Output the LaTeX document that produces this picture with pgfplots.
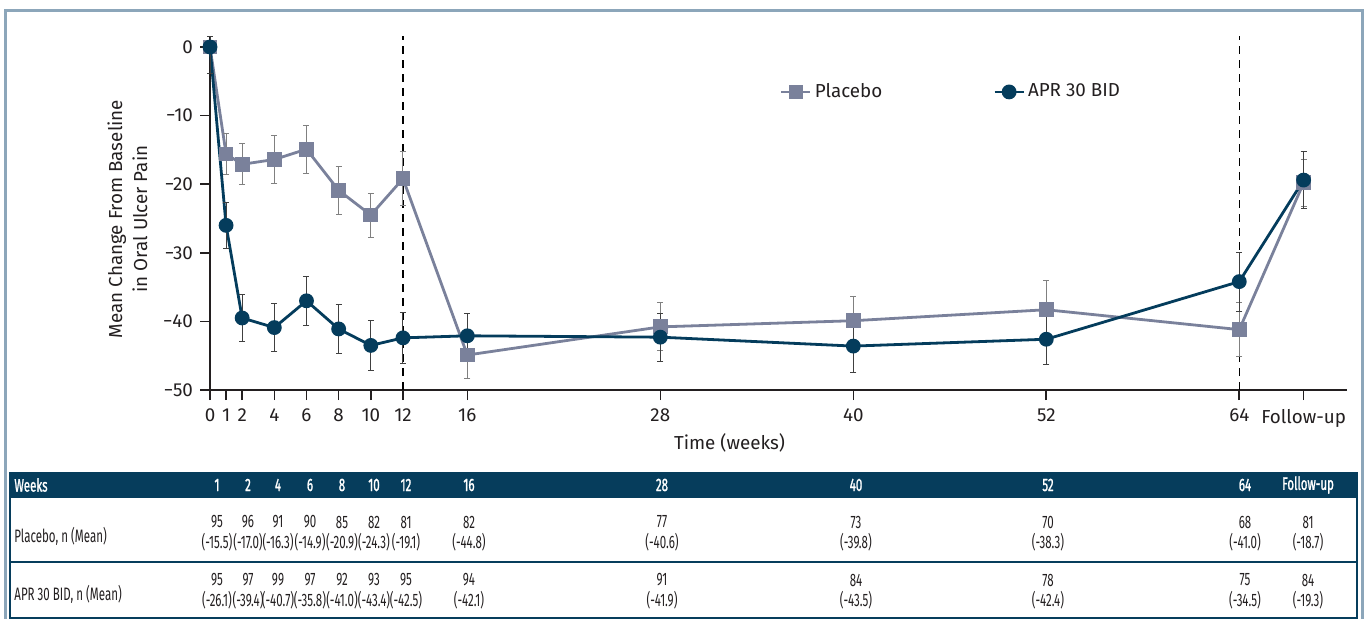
\documentclass[border=0pt]{standalone}
\usepackage{pgfplots}
\pgfplotsset{compat=1.18}
\usepackage{fontspec}
\setmainfont{Fira Sans}
\newfontfamily\condfont[FakeStretch=0.64]{Fira Sans}
\newfontfamily\condfontb[FakeStretch=0.64, FakeBold=1.2]{Fira Sans}
\definecolor{plac}{RGB}{122,129,155}
\definecolor{apr}{RGB}{4,60,92}
\definecolor{hdr}{RGB}{6,61,92}
\definecolor{framec}{RGB}{140,166,186}
\definecolor{txt}{RGB}{35,31,32}
\begin{document}
\begin{tikzpicture}
\path[use as bounding box] (0,0) rectangle (684pt,-309.5pt);
\begin{axis}[
  at={(105pt,-195pt)}, anchor=south west, scale only axis,
  width=568.5pt, height=177pt,
  xmin=0, xmax=70.7, ymin=-50, ymax=1.6,
  clip=false,
  axis lines=left, axis line style={-, line width=1pt, color=txt},
  xtick={0,1,2,4,6,8,10,12,16,28,40,52,64,68},
  xticklabels={0,1,2,4,6,8,10,12,16,28,40,52,64,Follow-up},
  ytick={-50,-40,-30,-20,-10,0},
  yticklabels={−50,−40,−30,−20,−10,0},
  tick align=outside, major tick length=5pt,
  tick style={line width=0.8pt, color=txt},
  tick label style={font=\fontsize{9.4}{11}\selectfont, text=txt},
  xticklabel style={yshift=-1pt},
  legend columns=2,
  legend style={at={(rel axis cs:0.501,0.842)}, anchor=west, draw=none, fill=none,
    inner sep=0pt, font=\fontsize{9.4}{11}\selectfont, text=txt,
    nodes={inner sep=1.5pt},
    /tikz/every even column/.append style={column sep=54pt}},
  legend image code/.code={\draw[mark repeat=2,mark phase=2,#1] plot coordinates {(0pt,0pt) (7.25pt,0pt) (14.5pt,0pt)};},
]
\addplot[forget plot, black, line width=0.75pt, dash pattern=on 4pt off 3pt] coordinates {(12,-50) (12,1.6)};
\addplot[forget plot, black, line width=0.75pt, dash pattern=on 4pt off 3pt] coordinates {(64,-50) (64,1.6)};

\addplot[color=plac, line width=1.4pt, mark=square*, mark size=3pt, mark options={solid},
  error bars/.cd, y dir=both, y explicit,
  error bar style={line width=0.5pt, color=gray},
  error mark options={rotate=90, mark size=1.5pt, line width=0.5pt, color=gray}]
coordinates {
(0,0) +- (0,0)
(1,-15.6) +- (0,3.0)
(2,-17.1) +- (0,3.0)
(4,-16.4) +- (0,3.5)
(6,-14.9) +- (0,3.5)
(8,-20.9) +- (0,3.5)
(10,-24.5) +- (0,3.2)
(12,-19.2) +- (0,3.9)
(16,-44.9) +- (0,3.4)
(28,-40.8) +- (0,3.5)
(40,-39.9) +- (0,3.5)
(52,-38.3) +- (0,4.2)
(64,-41.2) +- (0,3.9)
(68,-19.8) +- (0,3.4)
};
\addlegendentry{Placebo}

\addplot[color=apr, line width=1.4pt, mark=*, mark size=3pt, mark options={solid},
  error bars/.cd, y dir=both, y explicit,
  error bar style={line width=0.5pt, color=black!75},
  error mark options={rotate=90, mark size=1.5pt, line width=0.5pt, color=black!75}]
coordinates {
(0,0) += (0,1.6) -= (0,3.8)
(1,-26.0) +- (0,3.4)
(2,-39.5) +- (0,3.4)
(4,-40.9) +- (0,3.5)
(6,-37.0) +- (0,3.6)
(8,-41.1) +- (0,3.6)
(10,-43.5) +- (0,3.6)
(12,-42.4) +- (0,3.7)
(16,-42.1) +- (0,3.2)
(28,-42.3) +- (0,3.5)
(40,-43.6) +- (0,3.8)
(52,-42.6) +- (0,3.7)
(64,-34.2) +- (0,4.3)
(68,-19.4) +- (0,4.2)
};
\addlegendentry{APR 30 BID}
\end{axis}

\begin{scope}[x=0.5pt, y=-0.5pt]
\node[rotate=90, align=center, font=\fontsize{9.4}{12.5}\selectfont, text=txt] at (127.5,219) {Mean Change From Baseline\\in Oral Ulcer Pain};
\node[font=\fontsize{9.4}{11}\selectfont, text=txt] at (729.5,443) {Time (weeks)};

% frame
\draw[framec, line width=1.5pt] (5.5,619) -- (5.5,10.5) -- (1362,10.5) -- (1362,619);
% table
\fill[hdr] (9,472) rectangle (1357,497.5);
\draw[hdr, line width=1pt] (9.5,472) -- (9.5,618) -- (1356.5,618) -- (1356.5,472);
\draw[hdr, line width=1pt] (9,562) -- (1357,562);

\begin{scope}[every node/.style={font=\condfont\fontsize{9}{10}\selectfont}]
\node[anchor=west, text=white, inner sep=0pt, font=\condfontb\fontsize{9}{10}\selectfont] at (14,485) {Weeks};
\foreach \x/\t in {217/1, 248/2, 278/4, 310/6, 342/8, 374/10, 406/12, 469/16, 662/28, 856/40, 1048/52, 1245/64, 1308/Follow-up}
  \node[text=white, font=\condfontb\fontsize{9}{10}\selectfont] at (\x,485) {\t};
\node[anchor=west, text=txt, inner sep=0pt] at (14,536) {Placebo, n (Mean)};
\node[anchor=west, text=txt, inner sep=0pt] at (14,594) {APR 30 BID, n (Mean)};
\foreach \x/\n/\m in {217/95/-15.5, 248/96/-17.0, 278/91/-16.3, 310/90/-14.9, 342/85/-20.9, 374/82/-24.3, 406/81/-19.1, 469/82/-44.8, 662/77/-40.6, 856/73/-39.8, 1048/70/-38.3, 1245/68/-41.0, 1308/81/-18.7}
  { \node[text=txt] at (\x,522) {\n}; \node[text=txt] at (\x,542) {(\m)}; }
\foreach \x/\n/\m in {217/95/-26.1, 248/97/-39.4, 278/99/-40.7, 310/97/-35.8, 342/92/-41.0, 374/93/-43.4, 406/95/-42.5, 469/94/-42.1, 662/91/-41.9, 856/84/-43.5, 1048/78/-42.4, 1245/75/-34.5, 1308/84/-19.3}
  { \node[text=txt] at (\x,580) {\n}; \node[text=txt] at (\x,600) {(\m)}; }
\end{scope}
\end{scope}
\end{tikzpicture}
\end{document}
